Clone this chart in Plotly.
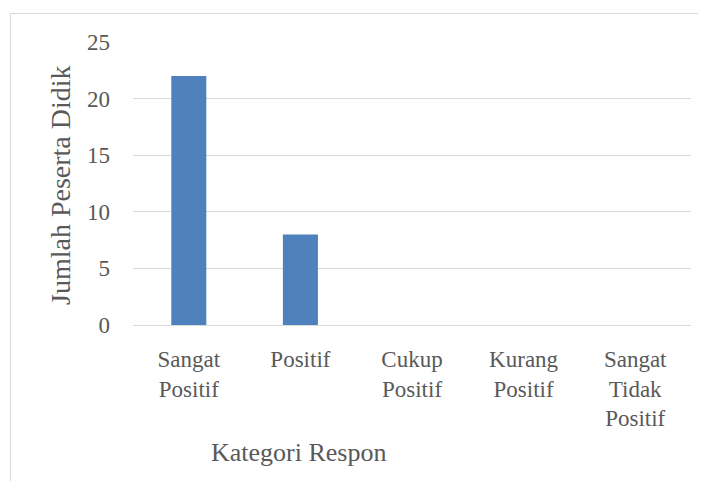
import plotly.graph_objects as go

categories = ["Sangat<br>Positif", "Positif", "Cukup<br>Positif", "Kurang<br>Positif", "Sangat<br>Tidak<br>Positif"]
values = [22, 8, 0, 0, 0]
y_ticks = [0, 5, 10, 15, 20, 25]

FONT = "Liberation Serif"
GRAY = "#595959"
GRID = "#d9d9d9"

OFF = 8  # page body margin
W, H = 706 - OFF, 481 - OFF
# plot area in page pixels: x 133..691, y 42..325
L, R, T, B = 133 - OFF, 706 - 691, 42 - OFF, 481 - 325
pw, ph = W - L - R, H - T - B

def px_x(px):
    return (px - OFF - L) / pw

def px_y(py):
    return (H - B - (py - OFF)) / ph

fig = go.Figure()
fig.add_trace(go.Bar(x=categories, y=values, marker=dict(color="#4f81bd", line=dict(width=0)), hoverinfo="skip"))

fig.update_layout(
    width=W, height=H,
    margin=dict(l=L, r=R, t=T, b=B),
    paper_bgcolor="white", plot_bgcolor="white",
    bargap=0.686,
    showlegend=False,
    font=dict(family=FONT, color=GRAY, size=23),
)
fig.update_xaxes(
    showgrid=False, showline=True, linecolor=GRID, linewidth=1,
    tickfont=dict(family=FONT, size=23, color=GRAY),
    ticks="outside", ticklen=13, tickcolor="rgba(0,0,0,0)",
)
fig.update_yaxes(
    range=[0, 25], tickvals=y_ticks, showgrid=True, gridcolor=GRID, gridwidth=1,
    zeroline=True, zerolinecolor=GRID, zerolinewidth=1, showline=False,
    tickfont=dict(family=FONT, size=23, color=GRAY),
    ticklabelstandoff=22,
)
fig.add_annotation(text="Kategori Respon", x=px_x(298), y=px_y(452), xref="paper", yref="paper",
                   showarrow=False, xanchor="center", yanchor="middle",
                   font=dict(family=FONT, size=26, color=GRAY))
fig.add_annotation(text="Jumlah Peserta Didik", x=px_x(60), y=px_y(185), xref="paper", yref="paper",
                   showarrow=False, xanchor="center", yanchor="middle", textangle=-90,
                   font=dict(family=FONT, size=28, color=GRAY))
# chart border (top and left edges visible)
fig.add_shape(type="line", xref="paper", yref="paper", x0=px_x(10), x1=px_x(720), y0=px_y(13.5), y1=px_y(13.5),
              line=dict(color=GRID, width=1))
fig.add_shape(type="line", xref="paper", yref="paper", x0=px_x(10.5), x1=px_x(10.5), y0=px_y(13), y1=px_y(490),
              line=dict(color=GRID, width=1))

fig.write_html("out.html")
